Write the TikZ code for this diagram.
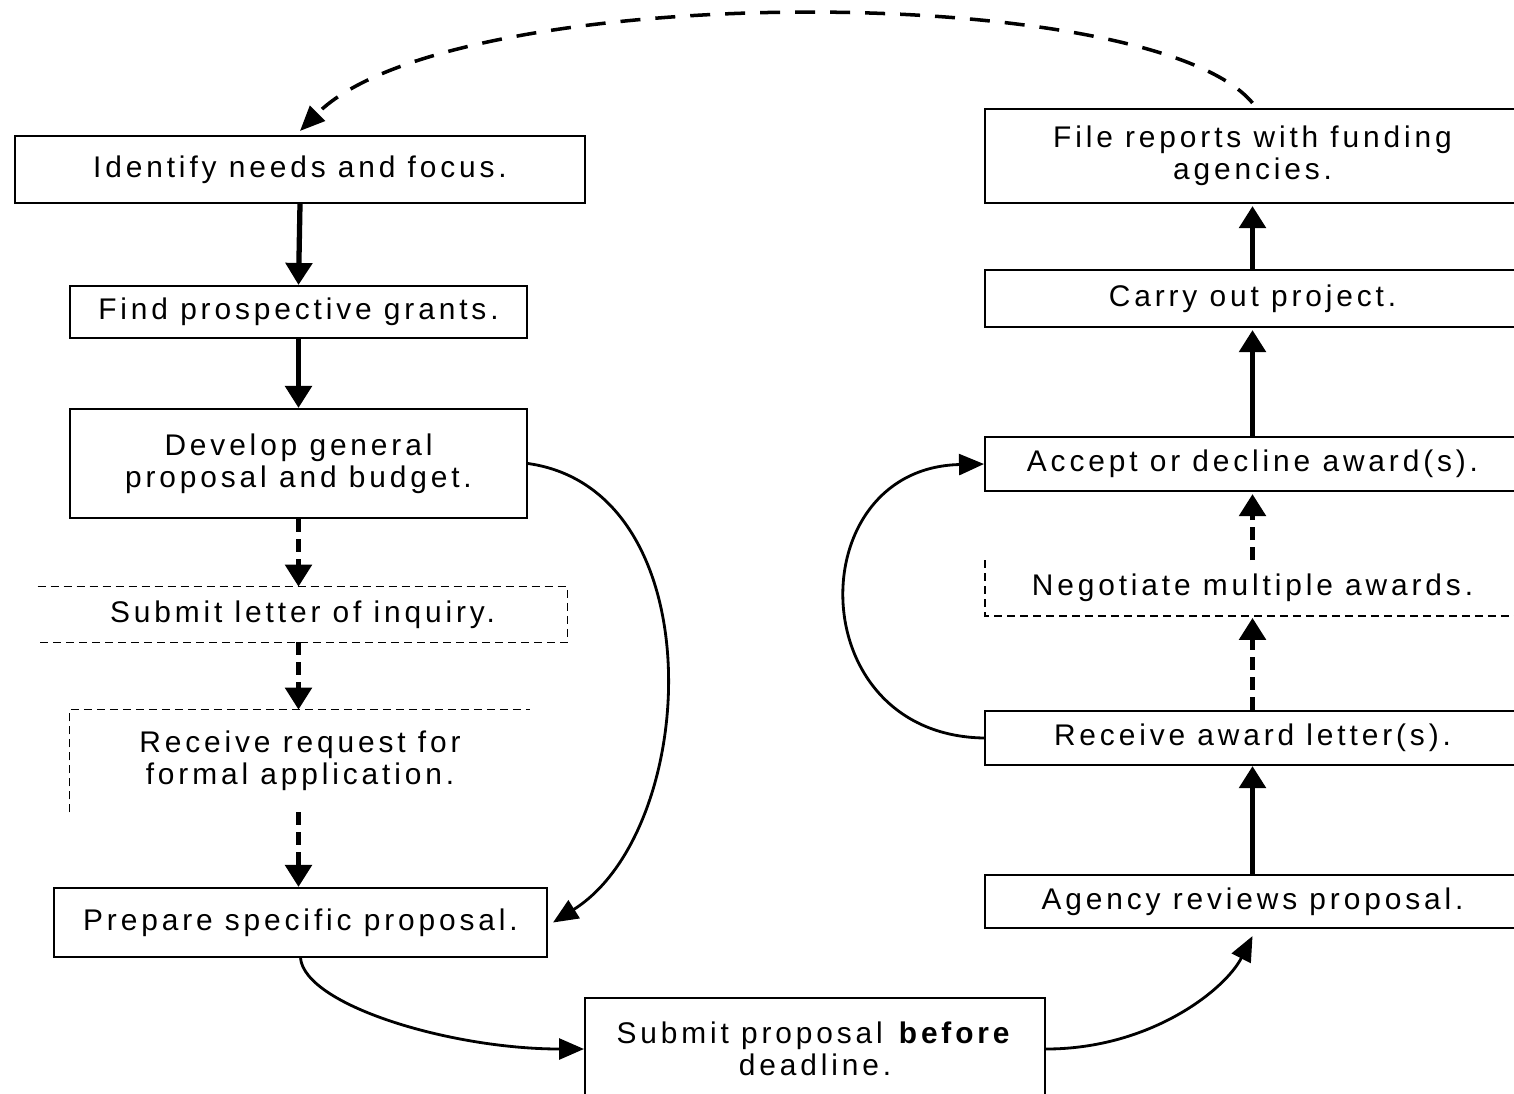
\documentclass[tikz,border=0pt]{standalone}
\usepackage{fontspec}
\setmainfont[LetterSpace=13]{Liberation Sans}
\usetikzlibrary{arrows.meta}
\begin{document}
\begin{tikzpicture}[x=0.02cm,y=-0.02cm,
  box/.style={draw, line width=1.2pt, align=center, inner sep=0pt, font=\fontsize{17}{18.3}\selectfont},
  tbox/.style={align=center, inner sep=0pt, font=\fontsize{17}{18.3}\selectfont},
  dbox/.style={line width=0.9pt, dash pattern=on 0.16cm off 0.1cm},
  flow/.style={line width=3pt, -{Triangle[width=0.52cm,length=0.44cm]}},
  dflow/.style={line width=3pt, dash pattern=on 0.26cm off 0.14cm, -{Triangle[width=0.52cm,length=0.44cm]}},
  curve/.style={line width=1.6pt, -{Triangle[width=0.42cm,length=0.5cm]}},
  topdash/.style={line width=2pt, dash pattern=on 0.4cm off 0.3cm, -{Triangle[width=0.42cm,length=0.5cm]}}
]
\useasboundingbox (0,0) rectangle (1514,1093);
\clip (0,0) rectangle (1514,1093);
\fill[white] (0,0) rectangle (1514,1093);

% left column
\node[box, minimum width=11.4cm, minimum height=1.34cm] (id) at (300,169.5) {Identify needs and focus.};
\node[box, minimum width=9.14cm, minimum height=1.04cm] (find) at (298.5,312) {Find prospective grants.};
\node[box, minimum width=9.14cm, minimum height=2.18cm] (dev) at (298.5,463.5) {Develop general\\proposal and budget.};
\node[tbox, minimum width=10.58cm, minimum height=1.1cm] (let) at (302.5,614.5) {Submit letter of inquiry.};
\node[tbox, minimum width=9.2cm, minimum height=2.04cm] (req) at (300,761) {Receive request for\\formal application.};
\node[box, minimum width=9.86cm, minimum height=1.38cm] (prep) at (300.5,922.5) {Prepare specific proposal.};
\node[box, minimum width=9.2cm, minimum height=2.04cm] (sub) at (815,1049) {Submit proposal \textbf{before}\\deadline.};

% right column
\node[box, minimum width=10.7cm, minimum height=1.06cm] (ag) at (1252.5,901.5) {Agency reviews proposal.};
\node[box, minimum width=10.7cm, minimum height=1.08cm] (aw) at (1252.5,738) {Receive award letter(s).};
\node[tbox, minimum width=10.7cm, minimum height=1.1cm] (neg) at (1252.5,588) {Negotiate multiple awards.};
\node[box, minimum width=10.7cm, minimum height=1.08cm] (acc) at (1252.5,464) {Accept or decline award(s).};
\node[box, minimum width=10.7cm, minimum height=1.14cm] (carry) at (1252.5,298.5) {Carry out project.};
\node[box, minimum width=10.7cm, minimum height=1.88cm] (file) at (1252.5,156) {File reports with funding\\agencies.};

% partial dashed borders
\draw[dbox] (let.north west) -- (let.north east) -- (let.south east) -- (let.south west);
\draw[dbox] (req.south west) -- (req.north west) -- (req.north east);
\draw[dbox] (neg.north west) -- (neg.south west) -- (neg.south east);

% straight connectors
\draw[flow] (id.south) -- (find.north);
\draw[flow] (find.south) -- (dev.north);
\draw[dflow] (dev.south) -- (let.north -| dev.south);
\draw[dflow] (let.south -| dev.south) -- (req.north -| dev.south);
\draw[dflow] (req.south -| dev.south) -- (prep.north -| dev.south);
\draw[flow] (ag.north) -- (aw.south);
\draw[dflow] (aw.north) -- ([yshift=-0.04cm]neg.south);
\draw[dflow] (neg.north) -- ([yshift=-0.04cm]acc.south);
\draw[flow] (acc.north) -- ([yshift=-0.04cm]carry.south);
\draw[flow] (carry.north) -- ([yshift=-0.04cm]file.south);

% curved connectors
\draw[curve] (dev.east) .. controls (715,490) and (700,830) .. ([xshift=0.1cm]prep.east);
\draw[curve] (prep.south) .. controls (305,1005) and (450,1049) .. (sub.west);
\draw[curve] (sub.east) .. controls (1150,1049) and (1225,990) .. ([yshift=-0.14cm]ag.south);
\draw[curve] (aw.west) .. controls (800,735) and (800,468) .. (acc.west);
\draw[topdash] ([yshift=0.1cm]file.north) .. controls (1150,-20) and (450,-20) .. ([yshift=0.08cm]id.north);
\end{tikzpicture}
\end{document}
